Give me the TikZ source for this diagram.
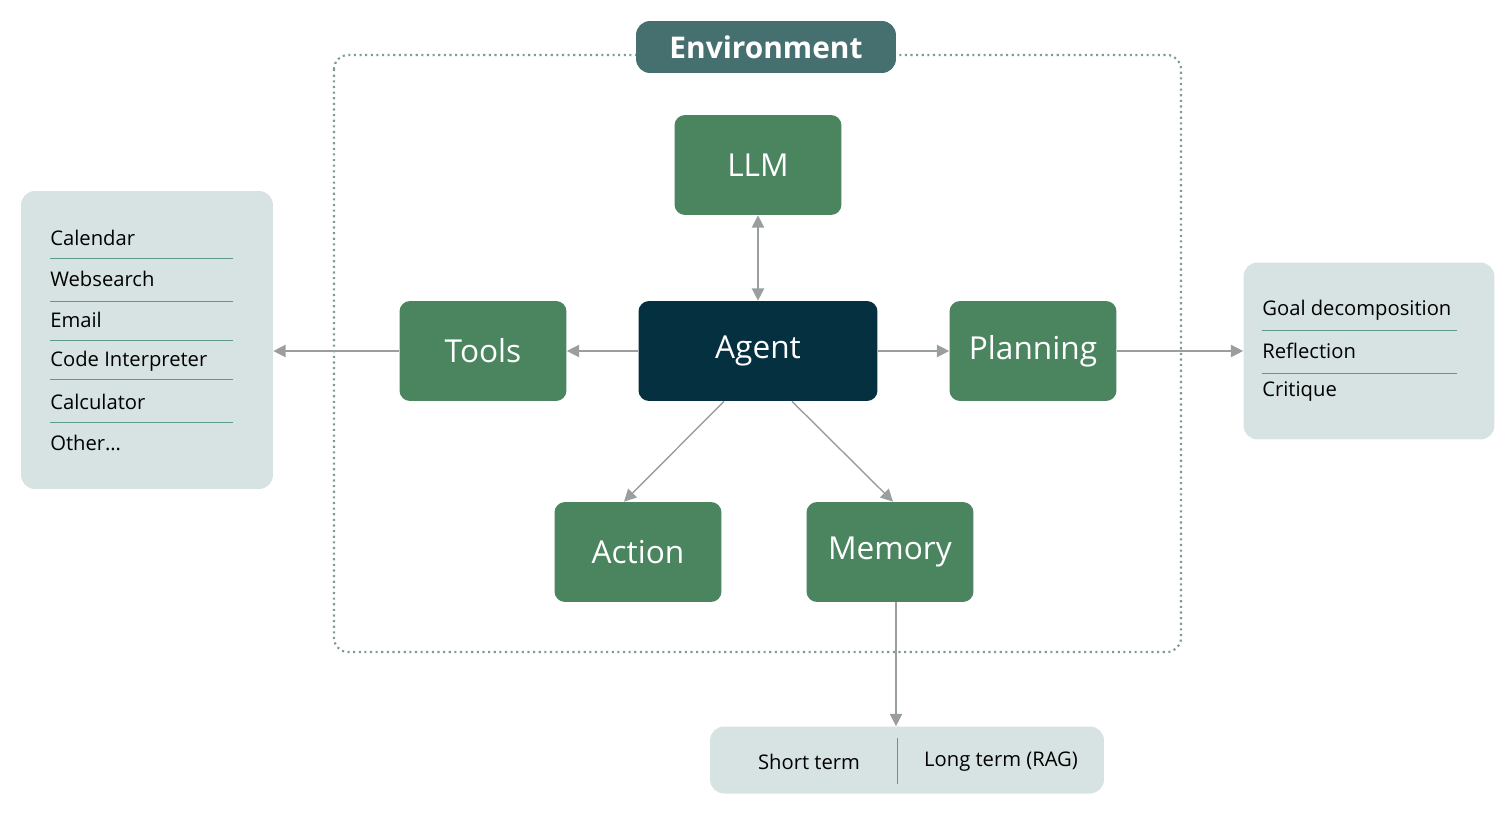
\documentclass[tikz,border=0pt]{standalone}
\usepackage{fontspec}
\setmainfont{Open Sans}
\usetikzlibrary{arrows.meta}
\definecolor{boxgreen}{HTML}{4A8560}
\definecolor{agentblue}{HTML}{05303F}
\definecolor{envteal}{HTML}{46706F}
\definecolor{listbg}{HTML}{D6E3E2}
\definecolor{arrowgray}{HTML}{9A9E9E}
\definecolor{lineteal}{HTML}{5E9A8C}

\tikzset{
  part/.style={rounded corners=6pt, fill=boxgreen, text=white, minimum width=3.34cm, minimum height=2cm, font=\fontsize{18}{20}\selectfont},
  listbox/.style={rounded corners=8pt, fill=listbg, inner sep=0pt},
  item/.style={anchor=west, font=\fontsize{11.5}{13}\selectfont, inner sep=0pt},
  arr/.style={draw=arrowgray, thick, -{Triangle[length=7pt,width=7pt]}},
  sep/.style={draw=lineteal, thin}
}

\begin{document}
\begin{tikzpicture}[x=0.02cm, y=-0.02cm]
\useasboundingbox (0,0) rectangle (1512,818);

% Umgebung
\draw[dotted, very thick, envteal!70, rounded corners=8pt] (334,55) rectangle (1181,652);
\node[rounded corners=8pt, fill=envteal, text=white, minimum width=5.2cm, minimum height=1.04cm, font=\fontsize{17}{19}\bfseries\selectfont] (env) at (766,47) {Environment};

% Bausteine
\node[part] (llm) at (758,165) {LLM};
\node[part, fill=agentblue, minimum width=4.78cm] (agent) at (758,351) {Agent};
\node[part] (tools) at (483,351) {Tools};
\node[part] (planning) at (1033,351) {Planning};
\node[part] (action) at (638,552) {Action};
\node[part] (memory) at (890,552) {Memory};

% Listen
\node[listbox, minimum width=5.04cm, minimum height=5.96cm] (toollist) at (147,340) {};
\node[listbox, minimum width=5.02cm, minimum height=3.54cm] (planlist) at (1369,351) {};
\node[listbox, minimum width=7.88cm, minimum height=1.34cm] (memlist) at (907,760) {};

\foreach \t [count=\i] in {Calendar, Websearch, Email, Code Interpreter, Calculator, {Other\ldots}}
  \node[item] (tool\i) at (50,197+41*\i) {\t};
\foreach \y in {258,301,340,379,422}
  \draw[sep] (50,\y) -- (233,\y);

\foreach \t [count=\i] in {Goal decomposition, Reflection, Critique}
  \node[item] (plan\i) at (1262,269+41*\i) {\t};
\foreach \y in {330,373}
  \draw[sep] (1262,\y) -- (1457,\y);

\node[item, anchor=center] (short) at (809,762) {Short term};
\node[item, anchor=center] (long) at (1001,762) {Long term (RAG)};
\draw[sep] (897,738) -- (897,784);

% Pfeile
\draw[arr, {Triangle[length=7pt,width=7pt]}-{Triangle[length=7pt,width=7pt]}] (llm) -- (agent);
\draw[arr] (agent) -- (tools);
\draw[arr] (tools) -- (toollist.east |- tools);
\draw[arr] (agent) -- (planning);
\draw[arr] (planning) -- (planlist.west |- planning);
\draw[arr] (agent.south -| 724,0) -- (action.north -| 624,0);
\draw[arr] (agent.south -| 792,0) -- (memory.north -| 893,0);
\draw[arr] (memory.south -| 896,0) -- (memlist.north -| 896,0);
\end{tikzpicture}
\end{document}
